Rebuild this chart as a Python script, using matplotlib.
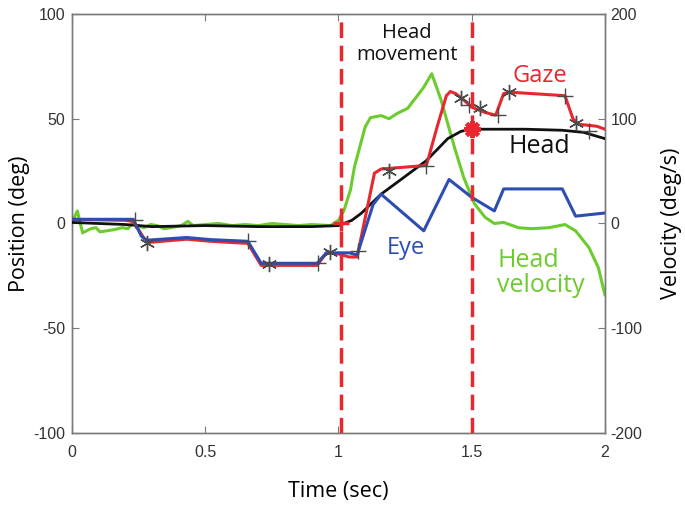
import matplotlib
matplotlib.use('Agg')
import matplotlib.pyplot as plt

plt.rcParams['axes.unicode_minus'] = False

# position traces (deg)
eye_t = [0, 0.23, 0.26, 0.28, 0.43, 0.52, 0.66, 0.71, 0.92, 0.955, 1.04, 1.07, 1.13, 1.16,
         1.32, 1.415, 1.5, 1.585, 1.62, 1.84, 1.89, 2.0]
eye_y = [2, 2, -6, -8, -6.7, -7.7, -8.5, -19, -19, -14, -14, -15, 9, 14,
         -3.5, 21, 12.5, 6, 16.5, 16.5, 3.5, 5]

gaze_t = [0, 0.2, 0.23, 0.27, 0.29, 0.43, 0.52, 0.66, 0.71, 0.92, 0.955, 1.0, 1.04, 1.07,
          1.135, 1.16, 1.33, 1.37, 1.405, 1.42, 1.44, 1.47, 1.5, 1.55, 1.59, 1.62, 1.64,
          1.85, 1.88, 1.9, 1.97, 2.0]
gaze_y = [2, 1.5, 1, -7, -9, -7.5, -8.5, -9.5, -20, -20, -14, -14.5, -16, -16,
          24, 26, 27.7, 46, 61, 63, 62, 59, 55.5, 53, 51.7, 62, 62.7,
          61, 50, 47.4, 46.4, 45]

head_t = [0, 0.1, 0.2, 0.3, 0.5, 0.7, 0.9, 1.0, 1.05, 1.085, 1.16, 1.24, 1.33, 1.41,
          1.46, 1.5, 1.7, 1.84, 1.92, 2.0]
head_y = [0.5, 0, -0.5, -1.5, -1, -1.5, -1.5, -1, 1.5, 4.8, 14, 21.5, 30, 40.5,
          44, 45, 45, 44.5, 43.5, 40.5]

# head velocity (deg/s), right axis
vel_t = [0, 0.02, 0.04, 0.07, 0.09, 0.105, 0.155, 0.19, 0.21, 0.225, 0.245, 0.27, 0.295,
         0.32, 0.345, 0.37, 0.41, 0.435, 0.455, 0.5, 0.55, 0.6, 0.65, 0.7, 0.75, 0.8,
         0.85, 0.9, 0.97, 1.0, 1.02, 1.045, 1.06, 1.1, 1.12, 1.16, 1.19, 1.22, 1.26, 1.29,
         1.32, 1.35, 1.385, 1.435, 1.47, 1.51, 1.55, 1.585, 1.62, 1.675, 1.725, 1.79,
         1.85, 1.89, 1.94, 1.975, 2.0]
vel_v = [1, 12, -9, -5, -4, -8, -6, -4, -5, 0, -2, -4, -1,
         -2, -5, -4, -2, 2, -2, -1, 0, -2, -1, -2, 0, -1,
         -2, -1, -2, 3, 12, 32, 54, 92, 101, 103, 100, 105, 110, 120,
         130, 143, 118, 73, 44, 19, 6, 0, 1, -4, -5, -4,
         -1, -7, -23, -42, -68]

# saccade markers on gaze
star_t = [0.28, 0.74, 0.97, 1.19, 1.46, 1.53, 1.64, 1.89]
star_y = [-9.5, -19.5, -13.5, 25, 60, 55, 62.7, 48]
plus_t = [0.237, 0.66, 0.922, 1.075, 1.33, 1.49, 1.6, 1.85, 1.94]
plus_y = [1.5, -8.5, -19, -13, 27.5, 56.5, 51.7, 61, 44]

# head movement start / end
move_start = 1.01
move_end = 1.5

red = '#e8272f'
blue = '#2d4db3'
green = '#6ccb2d'
black = '#111111'
gray = '#7a7a7a'
lab_font = ['Open Sans', 'DejaVu Sans']
tick_font = ['Liberation Sans', 'DejaVu Sans']

fig = plt.figure(figsize=(6.85, 5.07), dpi=100)
ax = fig.add_axes([0.1051, 0.146, 0.778, 0.8264])
ax2 = ax.twinx()

ax2.plot(vel_t, vel_v, color=green, lw=2.2, zorder=2)
ax2.set_ylim(-200, 200)

ax.set_zorder(ax2.get_zorder() + 1)
ax.patch.set_visible(False)

ax.plot(head_t, head_y, color=black, lw=2.0, zorder=3)
ax.plot(gaze_t, gaze_y, color=red, lw=2.2, zorder=4)
ax.plot(eye_t, eye_y, color=blue, lw=2.2, zorder=5)

ax.plot(star_t, star_y, ls='none', marker=(6, 2, 0), ms=11, mew=1.0, color='#4a4a4a', zorder=6)
ax.plot(plus_t, plus_y, ls='none', marker='+', ms=11, mew=1.0, color='#4a4a4a', zorder=6)

for xv in [move_start, move_end]:
    ax.axvline(xv, color=red, lw=2.5, ls=(0, (4.5, 2.2)), zorder=7)
ax.plot([move_start], [0], ls='none', marker='+', ms=12, mew=2.5, color=red, zorder=8)
ax.plot([move_end], [45], ls='none', marker=(8, 2, 0), ms=12, mew=3, color=red, zorder=8)

ax.set_xlim(0, 2)
ax.set_ylim(-100, 100)
ax.set_xticks([0, 0.5, 1, 1.5, 2])
ax.set_xticklabels(['0', '0.5', '1', '1.5', '2'])
ax.set_yticks([-100, -50, 0, 50, 100])
ax2.set_yticks([-200, -100, 0, 100, 200])

for a in (ax, ax2):
    for s in a.spines.values():
        s.set_color(gray)
        s.set_linewidth(1.0)
ax.tick_params(direction='in', length=5, color=gray, labelsize=11.5, labelcolor='#333333',
               top=True)
ax.tick_params(axis='x', pad=9)
ax.tick_params(axis='y', pad=5)
ax2.tick_params(direction='in', length=5, color=gray, labelsize=11.5, labelcolor='#333333', pad=4)
for lbl in ax.get_xticklabels() + ax.get_yticklabels() + ax2.get_yticklabels():
    lbl.set_family(tick_font)

ax.set_xlabel('Time (sec)', fontsize=15.5, family=lab_font, labelpad=15)
ax.set_ylabel('Position (deg)', fontsize=15.5, family=lab_font, labelpad=2)
ax2.set_ylabel('Velocity (deg/s)', fontsize=15.5, family=lab_font, labelpad=13)

ax.text(1.258, 85.6, 'Head\nmovement', ha='center', va='center', fontsize=14.5,
        family=lab_font, color=black, linespacing=1.15, zorder=9)
ax.text(1.755, 70.3, 'Gaze', ha='center', va='center', fontsize=17, family=lab_font, color=red)
ax.text(1.755, 36.8, 'Head', ha='center', va='center', fontsize=18, family=lab_font, color=black)
ax.text(1.254, -11.5, 'Eye', ha='center', va='center', fontsize=17, family=lab_font, color=blue)
ax.text(1.595, -23.5, 'Head\nvelocity', ha='left', va='center', fontsize=18, family=lab_font,
        color=green, linespacing=1.0)

fig.savefig('out.png', dpi=100)
